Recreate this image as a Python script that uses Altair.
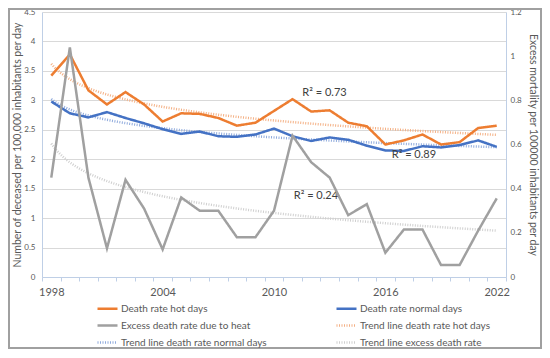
import altair as alt
import pandas as pd

years = list(range(1998, 2023))
hot = [3.42, 3.78, 3.17, 2.93, 3.14, 2.93, 2.64, 2.78, 2.77, 2.70, 2.57, 2.62, 2.82,
       3.02, 2.81, 2.83, 2.62, 2.56, 2.25, 2.32, 2.42, 2.25, 2.29, 2.53, 2.57]
normal = [2.98, 2.78, 2.71, 2.80, 2.70, 2.61, 2.51, 2.43, 2.47, 2.39, 2.38, 2.42, 2.52,
          2.39, 2.31, 2.37, 2.33, 2.23, 2.15, 2.14, 2.22, 2.20, 2.24, 2.32, 2.21]
excess = [0.45, 1.04, 0.45, 0.13, 0.44, 0.31, 0.125, 0.36, 0.30, 0.30, 0.18, 0.18, 0.30,
          0.64, 0.52, 0.45, 0.28, 0.33, 0.11, 0.215, 0.215, 0.054, 0.054, 0.21, 0.356]

S_HOT = "Death rate hot days"
S_NORM = "Death rate normal days"
S_EXC = "Excess death rate due to heat"
T_HOT = "Trend line death rate hot days"
T_NORM = "Trend line death rate normal days"
T_EXC = "Trend line excess death rate"
order = [S_HOT, S_NORM, S_EXC, T_HOT, T_NORM, T_EXC]
colors = ["#ED7D31", "#4472C4", "#A0A0A0", "#F4B084", "#8FAADC", "#CFCFCF"]
dashes = [[1, 0], [1, 0], [1, 0], [1, 1.5], [1, 1.5], [1, 1.5]]
widths = [2.5, 2.5, 2.5, 1.1, 1.1, 1.1]

ann_text = ["R\u00b2 = 0.73", "R\u00b2 = 0.89", "R\u00b2 = 0.24"]
ann_t = [15.72, 20.54, 15.26]
ann_v = [3.12, 2.07, 1.375]

rows = []
for i, y in enumerate(years):
    rows.append({"t": i + 1, "year": y, "series": S_HOT, "value": hot[i]})
    rows.append({"t": i + 1, "year": y, "series": S_NORM, "value": normal[i]})
    rows.append({"t": i + 1, "year": y, "series": S_EXC, "value": excess[i]})
df = pd.DataFrame(rows)
ann_df = pd.DataFrame({"label": ann_text, "t": ann_t, "value": ann_v})

TXT = "#595959"
FONT = "Lato"
AXCOL = "#BFCFE6"

x_enc = alt.X(
    "t:Q",
    scale=alt.Scale(domain=[0.5, 25.5], nice=False, zero=False),
    axis=alt.Axis(
        values=[i / 2 for i in range(1, 52)],
        labelExpr="datum.value % 6 == 1 ? '' + (1997 + datum.value) : ''",
        tickOpacity={"condition": {"test": "datum.value % 1 != 0", "value": 1}, "value": 0},
        labelOverlap=False,
        grid=False,
        title=None,
        tickSize=4,
        tickColor=AXCOL,
        domainColor=AXCOL,
        labelPadding=5,
        labelFontSize=11,
        labelColor=TXT,
        labelFont=FONT,
    ),
)

color_enc = alt.Color("series:N", scale=alt.Scale(domain=order, range=colors), title=None)
dash_enc = alt.StrokeDash("series:N", scale=alt.Scale(domain=order, range=dashes), title=None)
width_enc = alt.StrokeWidth("series:N", scale=alt.Scale(domain=order, range=widths), title=None)

y_left = alt.Y(
    "value:Q",
    scale=alt.Scale(domain=[0, 4.5], nice=False),
    axis=alt.Axis(
        values=[i / 2 for i in range(0, 10)],
        format=".1~f",
        labelOverlap=False,
        title="Number of deceased per 100,000 inhabitants per day",
        titleFontSize=10.5, titleFontWeight="normal", titleColor=TXT, titleFont=FONT,
        titlePadding=1,
        labelFontSize=8, labelColor=TXT, labelFont=FONT, labelPadding=7,
        ticks=False, domainColor=AXCOL,
        gridColor="#D9D9D9",
    ),
)

base = alt.Chart(df)

lines_left = base.transform_filter(
    alt.FieldOneOfPredicate(field="series", oneOf=[S_HOT, S_NORM])
).mark_line().encode(x=x_enc, y=y_left, color=color_enc, strokeDash=dash_enc, strokeWidth=width_enc)

trend_left = base.transform_filter(
    alt.FieldOneOfPredicate(field="series", oneOf=[S_HOT, S_NORM])
).transform_regression(
    "t", "value", method="log", groupby=["series"]
).transform_calculate(
    series="'Trend line ' + lower(datum.series)"
).mark_line().encode(x=x_enc, y=y_left, color=color_enc, strokeDash=dash_enc, strokeWidth=width_enc)

ann = alt.Chart(ann_df).mark_text(fontSize=11, color="#404040", font=FONT).encode(
    x=x_enc, y=y_left, text="label:N"
)

y_right = alt.Y(
    "value:Q",
    scale=alt.Scale(domain=[0, 1.2], nice=False),
    axis=alt.Axis(
        orient="right",
        values=[0, 0.2, 0.4, 0.6, 0.8, 1.0, 1.2],
        format=".1~f",
        labelOverlap=False,
        title="Excess mortality per 100000 inhabitants per day",
        titleFontSize=10.5, titleFontWeight="normal", titleColor=TXT, titleFont=FONT,
        titlePadding=6,
        labelFontSize=8, labelColor=TXT, labelFont=FONT, labelPadding=4,
        ticks=False, domainColor=AXCOL, grid=False,
    ),
)

line_right = base.transform_filter(
    alt.FieldEqualPredicate(field="series", equal=S_EXC)
).mark_line().encode(x=x_enc, y=y_right, color=color_enc, strokeDash=dash_enc, strokeWidth=width_enc)

trend_right = base.transform_filter(
    alt.FieldEqualPredicate(field="series", equal=S_EXC)
).transform_regression(
    "t", "value", method="log"
).transform_calculate(
    series="'" + T_EXC + "'"
).mark_line().encode(x=x_enc, y=y_right, color=color_enc, strokeDash=dash_enc, strokeWidth=width_enc)

frame = alt.Chart(pd.DataFrame({"k": [0]})).mark_rect(
    fill=None, stroke="#A0A0A0", strokeWidth=2
).encode(x=alt.value(-33), x2=alt.value(499), y=alt.value(-3), y2=alt.value(336))

left = alt.layer(trend_left, lines_left, ann)
right = alt.layer(trend_right, line_right)

chart = alt.layer(left, right, frame).resolve_scale(y="independent").properties(
    width=464, height=265,
    padding={"left": 34, "top": 4, "right": 36, "bottom": 72},
    autosize=alt.AutoSizeParams(type="none"),
).configure_view(stroke=None).configure_legend(
    orient="none", legendX=54, legendY=285, columns=2, columnPadding=64,
    direction="horizontal",
    symbolType="stroke", symbolSize=400, rowPadding=-3, labelOffset=2,
    labelFontSize=10, labelColor=TXT, labelFont=FONT, labelLimit=300,
)

chart.save("out.html", embed_options={"renderer": "svg", "actions": False})
